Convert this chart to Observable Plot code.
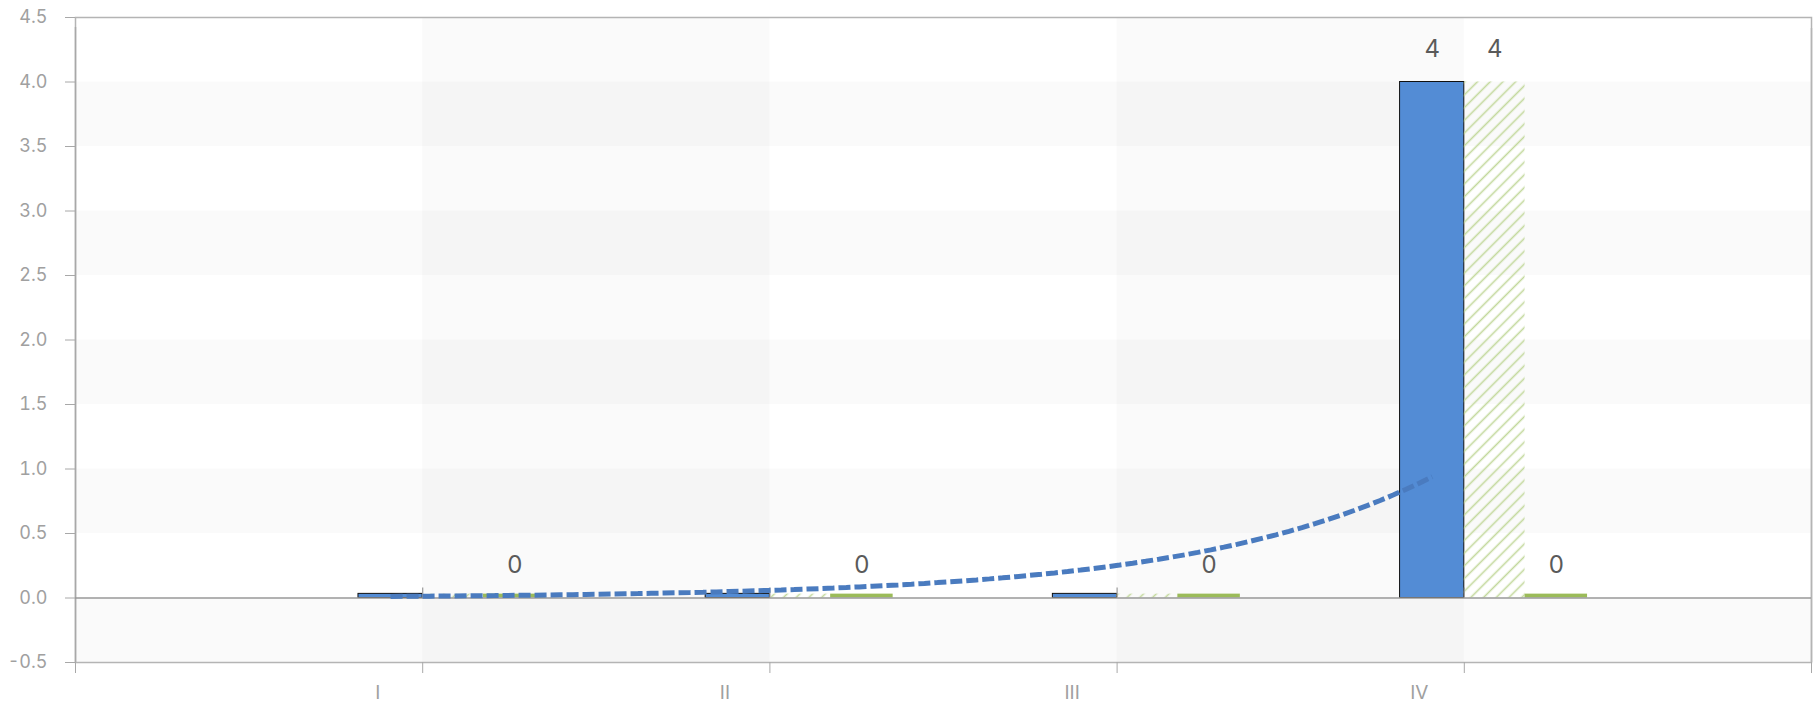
<!DOCTYPE html>
<html>
<head>
<meta charset="utf-8">
<script src="https://cdn.jsdelivr.net/npm/d3@7"></script>
<script src="https://cdn.jsdelivr.net/npm/@observablehq/plot@0.6"></script>
<style>
  html, body { margin: 0; padding: 0; background: #fff; }
</style>
</head>
<body>
<div id="chart"></div>
<script>
// ---- data ----
const categories = ["I", "II", "III", "IV"];
const blueValues = [0.032, 0.032, 0.032, 4];
const hatchValues = [0.03, 0.03, 0.03, 4];
const greenValues = [0.03, 0.03, 0.03, 0.03];
const blueLabels = [null, null, null, 4];
const hatchLabels = [null, null, null, 4];
const greenLabels = [0, 0, 0, 0];
const yTicks = [-0.5, 0, 0.5, 1, 1.5, 2, 2.5, 3, 3.5, 4, 4.5];
const xTicks = [0, 1, 2, 3, 4, 5];

// ---- build tables ----
const pos = categories.map((c, i) => i + 1);
const mk = (vals, labels) => categories.map((c, i) => ({cat: c, i: pos[i], v: vals[i], label: labels[i]}));
const blue = mk(blueValues, blueLabels);
const hatch = mk(hatchValues, hatchLabels);
const green = mk(greenValues, greenLabels);

// exponential trend line fitted to the blue series
const lx = pos, ly = blueValues.map(Math.log);
const mx = d3.mean(lx), my = d3.mean(ly);
const b = d3.sum(lx, (x, k) => (x - mx) * (ly[k] - my)) / d3.sum(lx, x => (x - mx) ** 2);
const a = my - b * mx;
const trend = d3.range(0, 81).map(k => {
  const x = lx[0] + (lx[lx.length - 1] - lx[0]) * k / 80;
  return {x, y: Math.exp(a + b * x)};
});

// alternating background bands
const rowBands = [];
for (let k = 0; k + 1 < yTicks.length; k += 2) rowBands.push({y1: yTicks[k], y2: yTicks[k + 1]});
const colBands = [];
for (let k = 1; k + 1 < xTicks.length; k += 2) colBands.push({x1: xTicks[k], x2: xTicks[k + 1]});

const xMin = xTicks[0], xMax = xTicks[xTicks.length - 1];
const yMin = yTicks[0], yMax = yTicks[yTicks.length - 1];

const BLUE_L = -0.185, BLUE_R = 0, HATCH_R = 0.175, GREEN_R = 0.355;
const fmt = d => (d == null ? "" : String(d));

const chart = Plot.plot({
  width: 1818,
  height: 707,
  marginLeft: 75,
  marginRight: 7,
  marginTop: 17,
  marginBottom: 45,
  x: {domain: [xMin, xMax]},
  y: {domain: [yMin, yMax]},
  style: {fontFamily: "Inter, 'Noto Sans', sans-serif", fontSize: "18px", background: "#fff", overflow: "visible"},
  marks: [
    Plot.rect(rowBands, {x1: xMin, x2: xMax, y1: "y1", y2: "y2", fill: "#000", fillOpacity: 0.018}),
    Plot.rect(colBands, {x1: "x1", x2: "x2", y1: yMin, y2: yMax, fill: "#000", fillOpacity: 0.018}),
    Plot.frame({stroke: "#b4b4b4", strokeWidth: 1.5}),
    Plot.ruleX([xMin], {y1: yMin, y2: yMax, stroke: "#a8a8a8", strokeWidth: 1.5, insetBottom: -10}),
    Plot.ruleX([xMax], {y1: yMin, y2: yMax, stroke: "#b4b4b4", strokeWidth: 1.5, insetBottom: -11}),
    // bars
    Plot.rect(blue, {x1: d => d.i + BLUE_L, x2: d => d.i + BLUE_R, y1: 0, y2: "v", fill: "#538cd5", stroke: "#111", strokeWidth: 1}),
    Plot.rect(hatch, {x1: d => d.i + BLUE_R, x2: d => d.i + HATCH_R, y1: 0, y2: "v", fill: "url(#hatch)"}),
    Plot.rect(green, {x1: d => d.i + HATCH_R, x2: d => d.i + GREEN_R, y1: 0, y2: "v", fill: "#9bbb59"}),
    // zero line with small ticks
    Plot.ruleY([0], {stroke: "#999", strokeWidth: 1.5}),
    Plot.ruleX(pos, {y1: 0, y2: 0, insetTop: -10, stroke: "#999", strokeWidth: 1.2}),
    // dashed exponential trend line
    Plot.line(trend, {x: d => d.x + (BLUE_L + BLUE_R) / 2, y: "y", stroke: "#4a7bbf", strokeWidth: 5, strokeDasharray: "12,4", strokeLinecap: "butt", strokeLinejoin: "miter"}),
    // labels
    Plot.text(blue.filter(d => d.label != null), {x: d => d.i + (BLUE_L + BLUE_R) / 2, y: "label", text: d => fmt(d.label), dy: -25, lineAnchor: "bottom", fontSize: 24, fill: "#5a5a5a"}),
    Plot.text(hatch.filter(d => d.label != null), {x: d => d.i + (BLUE_R + HATCH_R) / 2, y: "label", text: d => fmt(d.label), dy: -25, lineAnchor: "bottom", fontSize: 24, fill: "#5a5a5a"}),
    Plot.text(green.filter(d => d.label != null), {x: d => d.i + (HATCH_R + GREEN_R) / 2, y: "label", text: d => fmt(d.label), dy: -25, lineAnchor: "bottom", fontSize: 24, fill: "#5a5a5a"}),
    // axes
    Plot.axisY(yTicks, {tickSize: 10, tickPadding: 18, tickFormat: d => d.toFixed(1), stroke: "#a8a8a8", fill: "#a0a0a0", label: null}),
    Plot.axisX(xTicks, {tickSize: 11, tickFormat: () => "", stroke: "#a8a8a8", label: null}),
    Plot.axisX(pos, {tickSize: 0, tickPadding: 23, tickFormat: d => categories[d - 1], dx: -45, fill: "#a0a0a0", fontSize: 19, label: null})
  ]
});

// hatch pattern
const defs = d3.select(chart).insert("defs", ":first-child");
const pat = defs.append("pattern")
  .attr("id", "hatch")
  .attr("patternUnits", "userSpaceOnUse")
  .attr("width", 9)
  .attr("height", 9)
  .attr("patternTransform", "rotate(45)");
pat.append("line")
  .attr("x1", 4.5).attr("y1", 0).attr("x2", 4.5).attr("y2", 9)
  .attr("stroke", "#c3d89c").attr("stroke-width", 1.6);

document.getElementById("chart").appendChild(chart);
</script>
</body>
</html>
